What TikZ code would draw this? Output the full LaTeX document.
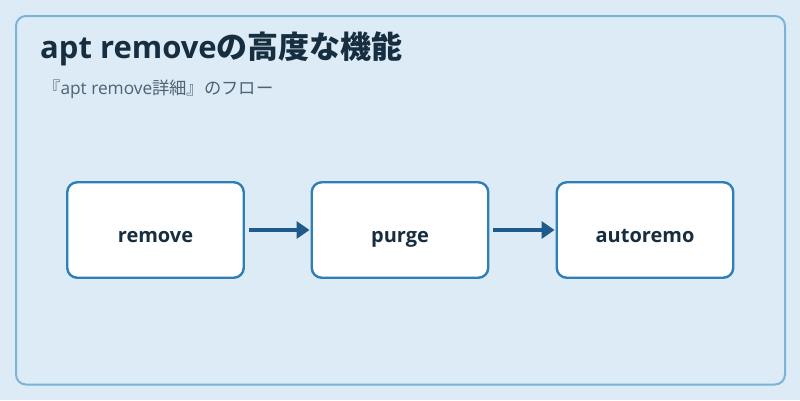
\documentclass[tikz,border=0pt]{standalone}
\usepackage{fontspec}
\setmainfont{Open Sans}
\newfontfamily\jpfont{Noto Sans CJK JP}
\usepackage{xcolor}
\definecolor{aptbg}{RGB}{220,235,246}
\definecolor{aptframe}{RGB}{123,179,214}
\definecolor{aptblue}{RGB}{47,127,183}
\definecolor{aptarrow}{RGB}{31,90,138}
\definecolor{aptnavy}{RGB}{22,46,64}
\definecolor{aptgray}{RGB}{78,99,116}
\usetikzlibrary{arrows.meta,positioning}

\tikzset{
  stagebox/.style={draw=aptblue, fill=white, line width=2.4pt, rounded corners=10pt, minimum width=176.5pt, minimum height=95.5pt, inner sep=0pt, text height=25pt, text depth=0pt, font=\fontsize{20}{24}\selectfont\bfseries, text=aptnavy},
  flowarrow/.style={-{Triangle[length=13pt,width=17pt]}, line width=3.5pt, aptarrow, shorten <=4pt, shorten >=1pt}
}

\begin{document}
\begin{tikzpicture}[x=1pt,y=-1pt]
  % Background and frame
  \fill[aptbg] (0,0) rectangle (800,400);
  \draw[aptframe, line width=2pt, rounded corners=10pt] (16,16) rectangle (785,384.5);

  % Title and subtitle
  \node[anchor=base west, inner sep=0pt, font=\fontsize{31}{36}\selectfont\bfseries, text=aptnavy] (title) at (40,58) {apt remove{\jpfont の高度な機能}};
  \node[anchor=base west, inner sep=0pt, font=\fontsize{17.3}{21}\selectfont, text=aptgray] (subtitle) at (43,94.5) {{\jpfont 『}apt remove{\jpfont 詳細』のフロー}};

  % Stages
  \node[stagebox] (remove) at (155.5,230) {remove};
  \node[stagebox] (purge) at (400,230) {purge};
  \node[stagebox] (autoremove) at (645,230) {autoremo};

  \draw[flowarrow] (remove) -- (purge);
  \draw[flowarrow] (purge) -- (autoremove);
\end{tikzpicture}
\end{document}
